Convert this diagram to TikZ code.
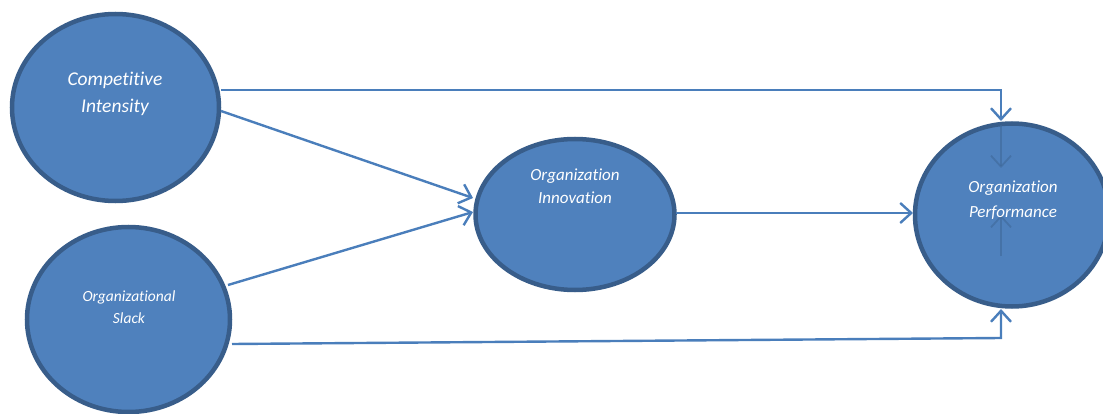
\documentclass[tikz,border=0pt]{standalone}
\usepackage{fontspec}
\setmainfont{Carlito}[Ligatures={NoCommon}]
\usetikzlibrary{arrows.meta,shapes.geometric}
\definecolor{nodefill}{HTML}{4F81BD}
\definecolor{nodeline}{HTML}{385D8A}
\definecolor{arrowcol}{HTML}{4A7EBB}
\tikzset{
  bubble/.style={draw=nodeline, fill=nodefill, line width=4.5pt, ellipse},
  lbl/.style={text=white, align=center, inner sep=0pt},
  conn/.style={draw=arrowcol, line width=2.4pt, -{Straight Barb[length=11pt,width=20pt,line width=2.4pt]}},
  ghost/.style={draw=nodeline!70!nodefill, line width=1.8pt, opacity=0.6, -{Straight Barb[length=11pt,width=20pt,line width=1.8pt]}}
}
\begin{document}
\begin{tikzpicture}[x=1pt,y=-1pt]
\useasboundingbox (0,0) rectangle (1103,414);
% nodes
\node[bubble, minimum width=207pt, minimum height=187pt] (ci) at (115.5,107.5) {};
\node[bubble, minimum width=203pt, minimum height=185pt] (os) at (128.5,319.5) {};
\node[bubble, minimum width=199pt, minimum height=151pt] (oi) at (575,214.5) {};
\node[bubble, minimum width=194pt, minimum height=183pt] (op) at (1012,215) {};
% faint arrows visible inside the performance node
\coordinate (g1s) at (1001,125);
\coordinate (g1e) at (1001,168);
\coordinate (g2s) at (1001,256);
\coordinate (g2e) at (1001,215);
\draw[ghost] (g1s) -- (g1e);
\draw[ghost] (g2s) -- (g2e);
% labels
\node[lbl, font=\itshape\fontsize{19.5}{27}\selectfont] (tci) at (115,93.5) {Competitive\\Intensity};
\node[lbl, font=\itshape\fontsize{15.5}{22}\selectfont] (tos) at (129,307.5) {Organizational\\Slack};
\node[lbl, font=\itshape\fontsize{17}{23.5}\selectfont] (toi) at (575,186) {Organization\\Innovation};
\node[lbl, font=\itshape\fontsize{17}{25}\selectfont] (top) at (1013,200) {Organization\\Performance};
% connectors
\coordinate (ci1) at (221,90);
\coordinate (ci2) at (221,111);
\coordinate (os1) at (228,285);
\coordinate (os2) at (232,344);
\coordinate (oi1) at (676,213);
\coordinate (opt) at (1001,121);
\coordinate (opb) at (1001,309);
\coordinate (opl) at (913,213);
\coordinate (oil) at (473,198);
\coordinate (oil2) at (473,212);
\draw[conn] (ci1) -- (1001,90) -- (opt);
\draw[conn] (ci2) -- (oil);
\draw[conn] (os1) -- (oil2);
\draw[conn] (os2) -- (1001,338) -- (opb);
\draw[conn] (oi1) -- (opl);
\end{tikzpicture}
\end{document}
